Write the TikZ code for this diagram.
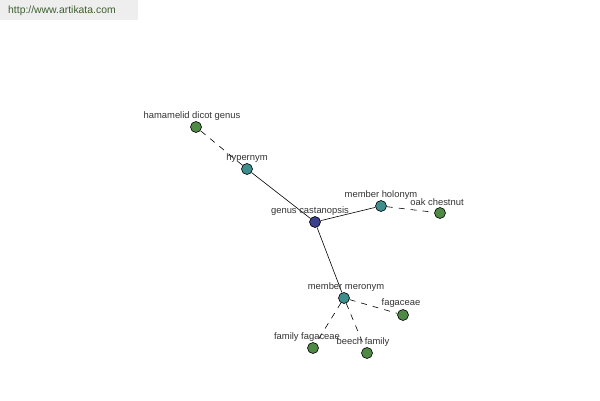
\documentclass[tikz,border=0pt]{standalone}
\usepackage{fontspec}
\setmainfont{Liberation Sans}
\usetikzlibrary{positioning}
\definecolor{leafgreen}{HTML}{4F8A45}
\definecolor{relteal}{HTML}{3E8E8E}
\definecolor{rootblue}{HTML}{3A3F8E}
\definecolor{labelgray}{HTML}{333333}
\definecolor{bannerbg}{HTML}{EEEEEE}
\definecolor{bannertext}{HTML}{3E5E30}

\begin{document}
\begin{tikzpicture}[x=1pt, y=-1pt,
    dot/.style={circle, draw=black, line width=0.6pt, fill=#1, inner sep=0pt, minimum size=11pt},
    lbl/.style={font=\fontsize{9.4}{11}\selectfont, text=labelgray, inner sep=0pt},
    solidlink/.style={black, line width=0.6pt},
    dashlink/.style={black, line width=0.6pt, dash pattern=on 6pt off 6pt}
]
\useasboundingbox[fill=white] (0,0) rectangle (600,400);
% banner
\fill[bannerbg] (0,0) rectangle (138,20);
\node[font=\fontsize{10.4}{12}\selectfont, text=bannertext, anchor=west, inner sep=0pt] (site) at (8,11) {http://www.artikata.com};

% nodes
\node[dot=rootblue] (castanopsis) at (315,222) {};
\node[dot=relteal] (hypernym) at (247,169) {};
\node[dot=relteal] (holonym) at (381,206) {};
\node[dot=relteal] (meronym) at (344,298) {};
\node[dot=leafgreen] (hamamelid) at (196,127) {};
\node[dot=leafgreen] (oak) at (440,213) {};
\node[dot=leafgreen] (fagaceae) at (403,315) {};
\node[dot=leafgreen] (famfagaceae) at (313,348) {};
\node[dot=leafgreen] (beech) at (367,353) {};

% links
\draw[solidlink] (castanopsis) -- (hypernym);
\draw[solidlink] (castanopsis) -- (holonym);
\draw[solidlink] (castanopsis) -- (meronym);
\draw[dashlink] (hypernym) -- (hamamelid);
\draw[dashlink] (holonym) -- (oak);
\draw[dashlink] (meronym) -- (fagaceae);
\draw[dashlink] (meronym) -- (famfagaceae);
\draw[dashlink] (meronym) -- (beech);

% labels
\node[lbl] at (310,211) {genus castanopsis};
\node[lbl] at (247,158) {hypernym};
\node[lbl] at (381,195) {member holonym};
\node[lbl] at (346,287) {member meronym};
\node[lbl] at (192,116) {hamamelid dicot genus};
\node[lbl] at (437,202) {oak chestnut};
\node[lbl] at (401,303) {fagaceae};
\node[lbl] at (307,337) {family fagaceae};
\node[lbl] at (363,342) {beech family};
\end{tikzpicture}
\end{document}
